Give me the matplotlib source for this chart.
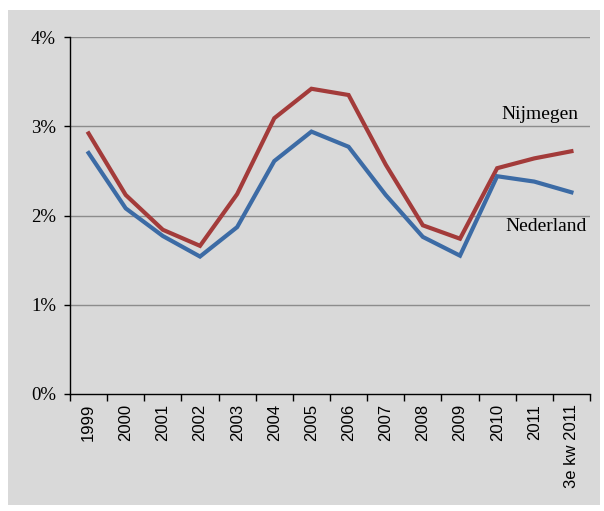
import matplotlib.pyplot as plt
from matplotlib.patches import Rectangle
from matplotlib.ticker import FuncFormatter

# data (percentages)
jaren = ['1999', '2000', '2001', '2002', '2003', '2004', '2005', '2006',
         '2007', '2008', '2009', '2010', '2011', '3e kw 2011']
nijmegen = [2.92, 2.23, 1.84, 1.66, 2.24, 3.09, 3.42, 3.35, 2.57, 1.89, 1.74, 2.53, 2.64, 2.72]
nederland = [2.70, 2.08, 1.77, 1.54, 1.87, 2.61, 2.94, 2.77, 2.23, 1.76, 1.55, 2.44, 2.38, 2.26]

rood = '#A33B3A'
blauw = '#3C6BA5'
grijs = '#D9D9D9'

fig = plt.figure(figsize=(6.04, 5.11), dpi=100, facecolor='white')
# grey panel behind the chart
fig.add_artist(Rectangle((8 / 604, 1 - 505 / 511), 592 / 604, 495 / 511,
                         transform=fig.transFigure, facecolor=grijs,
                         edgecolor='none', zorder=-10))

ax = fig.add_axes([70 / 604, 1 - 394 / 511, 520 / 604, 357 / 511])
ax.set_zorder(5)
ax.set_facecolor('none')

x = list(range(len(jaren)))
ax.plot(x, nijmegen, color=rood, lw=3.0, solid_joinstyle='miter', zorder=3)
ax.plot(x, nederland, color=blauw, lw=3.0, solid_joinstyle='miter', zorder=3)

ax.set_xlim(-0.5, len(jaren) - 0.5)
ax.set_ylim(0, 4)

# y axis
ax.set_yticks([0, 1, 2, 3, 4])
ax.yaxis.set_major_formatter(FuncFormatter(lambda v, p: f'{int(v)}%'))
for lbl in ax.get_yticklabels():
    lbl.set_family('Liberation Serif')
    lbl.set_fontsize(13.5)
ax.tick_params(axis='y', direction='out', length=4, width=1, pad=6, colors='black')
for yv in [1, 2, 3, 4]:
    ax.axhline(yv, color='#8C8C8C', lw=1, zorder=1)

# x axis: labels at centres, ticks at boundaries
ax.set_xticks(x)
ax.set_xticklabels(jaren, rotation=90, family='Liberation Sans', fontsize=12,
                   va='top', ha='center')
ax.set_xticks([i - 0.5 for i in range(len(jaren) + 1)], minor=True)
ax.tick_params(axis='x', which='major', length=0, pad=7)
ax.tick_params(axis='x', which='minor', direction='out', length=5, width=1)

for s in ['top', 'right']:
    ax.spines[s].set_visible(False)
ax.spines['left'].set_linewidth(1)
ax.spines['bottom'].set_linewidth(1)

ax.text(12.15, 3.13, 'Nijmegen', family='Liberation Serif', fontsize=14,
        ha='center', va='center')
ax.text(12.32, 1.88, 'Nederland', family='Liberation Serif', fontsize=14,
        ha='center', va='center')

fig.savefig('out.png', dpi=100, facecolor='white')
